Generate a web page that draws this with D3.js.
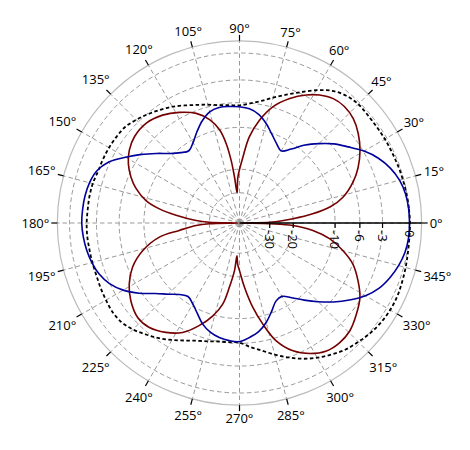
<!DOCTYPE html>
<html><head><meta charset="utf-8">
<script src="https://cdn.jsdelivr.net/npm/d3@7"></script>
<style>
body{margin:0;background:#fff}
text{font-family:"Open Sans",sans-serif;font-size:13px;fill:#000}
</style>
</head><body>
<svg id="chart" width="470" height="450"></svg>
<script>
// ---- data (angles in degrees, values in dB) ----
const angleTicks = [0,15,30,45,60,75,90,105,120,135,150,165,180,195,210,225,240,255,270,285,300,315,330,345];
const radialTicks = [-30,-20,-10,-6,-3,0];
const radialTickLabels = ["-30","-20","-10","-6","-3","0"];
const rMaxDb = 1.2;

const stepAngles = [0,5,10,15,20,25,30,35,40,45,50,55,60,65,70,75,80,85,90,95,100,105,110,115,120,125,130,135,140,145,150,155,160,165,170,175,
  180,185,190,195,200,205,210,215,220,225,230,235,240,245,250,255,260,265,270,275,280,285,290,295,300,305,310,315,320,325,330,335,340,345,350,355];

const blueValues = [0,-0.03,-0.15,-0.45,-1.0,-1.8,-2.9,-4.3,-5.6,-7.2,-8.9,-11.0,-12.4,-11.5,-10.2,-8.7,-7.5,-6.85,-6.6,-6.5,-6.45,-6.77,-7.75,-9.1,-10.5,-11.4,-10.7,-9.5,-7.85,-6.1,-4.45,-2.85,-1.95,-1.57,-1.4,-1.33,
  -1.3,-1.4,-1.58,-1.85,-2.25,-2.95,-4.1,-5.7,-7.6,-9.1,-10.4,-11.1,-10.4,-9.25,-7.95,-7.1,-6.6,-6.33,-6.25,-6.8,-7.5,-8.7,-10.3,-11.8,-12.1,-10.8,-9.1,-7.35,-5.65,-4.1,-2.7,-1.7,-1.05,-0.55,-0.2,-0.03];

const dashValues = [0.05,0,-0.05,-0.1,-0.15,-0.2,-0.22,-0.25,-0.25,-0.2,-0.4,-0.9,-1.8,-2.85,-3.8,-4.7,-5.5,-6.05,-6.4,-6.3,-6.1,-5.7,-5.25,-4.7,-4.1,-3.6,-3.1,-2.65,-2.25,-2.15,-2.1,-2.1,-2.1,-1.95,-1.9,-1.9,
  -1.85,-1.85,-1.9,-1.9,-1.9,-1.8,-1.7,-1.6,-1.7,-2.1,-2.7,-3.3,-4.0,-4.7,-5.3,-5.7,-6.0,-6.1,-6.1,-5.4,-4.7,-3.85,-3.0,-2.2,-1.55,-1.0,-0.5,-0.2,0.1,0.3,0.4,0.4,0.3,0.2,0.1,0.05];

const redAngles = [0,1.5,3,4.5,7,10,14,20,25,31,37,42.5,48,53,58,62.5,68,74,79,83.5,87,92,94.5,96.2,97.6,99.5,102,106,111.5,118.5,125.5,133,140.5,146.5,152,157,161.5,166.5,170,173,176.7,178.5,
  180,181.5,183.3,187,190,196,202.5,209,215.5,223,229,236,242.5,248.5,254,258.3,261,264,265.5,267.5,270,274.5,279,283,287.3,292.7,298.3,304.2,310,315.7,322,328.3,334,340,345,350,354.2,357.3,358.5];
const redValues = [-80,-30,-24,-20,-14.7,-10.7,-8.1,-5.9,-4.55,-3.3,-2.33,-1.68,-1.41,-1.52,-2.07,-2.84,-4.1,-5.93,-8.42,-11.7,-16.4,-22.7,-30,-22.6,-17.2,-13.0,-10.1,-8.0,-6.37,-5.22,-4.33,-3.8,-3.88,-4.38,-5.22,-6.35,-7.7,-9.9,-12.8,-17.0,-23.7,-30,
  -80,-30,-23.7,-17.9,-12.8,-9.08,-6.67,-5.19,-4.19,-3.5,-3.61,-4.41,-5.57,-7.51,-9.83,-12.5,-16.6,-22,-28.5,-24.5,-22.1,-16.8,-11.95,-8.57,-5.56,-3.55,-2.38,-1.64,-1.49,-1.69,-2.37,-3.18,-4.41,-5.94,-8.01,-10.7,-14.5,-20.1,-30];

// ---- drawing ----
const cx = 239.5, cy = 223, R0 = 170;
const svg = d3.select("#chart");
const g = svg.append("g").attr("transform", `translate(${cx},${cy})`);
const r = d3.scaleSqrt().domain([0, 1]).range([0, R0]);
const rad = db => r(Math.pow(10, db / 20));
const toRad = a => a * Math.PI / 180;
const Rmax = rad(rMaxDb);

// grid rings
g.selectAll("circle.ring").data(radialTicks).join("circle")
  .attr("r", d => rad(d)).attr("fill", "none")
  .attr("stroke", "#999").attr("stroke-width", 1).attr("stroke-dasharray", "4.5,3");
// spokes
g.selectAll("line.spoke").data(angleTicks).join("line")
  .attr("x1", 0).attr("y1", 0)
  .attr("x2", d => Rmax * Math.cos(toRad(d))).attr("y2", d => -Rmax * Math.sin(toRad(d)))
  .attr("stroke", "#999").attr("stroke-width", 1).attr("stroke-dasharray", "4.5,3");
// frame
g.append("circle").attr("r", Rmax).attr("fill", "none").attr("stroke", "#bbb").attr("stroke-width", 1.2);

// curves
const line = d3.lineRadial()
  .angle(d => toRad(90 - d[0]))
  .radius(d => rad(d[1]))
  .curve(d3.curveCatmullRomClosed.alpha(0.5));
const zip = (a, v) => a.map((x, i) => [x, v[i]]);

g.append("path").attr("d", line(zip(stepAngles, dashValues)))
  .attr("fill", "none").attr("stroke", "#000").attr("stroke-width", 1.8).attr("stroke-dasharray", "3.5,2.5");
g.append("path").attr("d", line(zip(redAngles, redValues)))
  .attr("fill", "none").attr("stroke", "#750000").attr("stroke-width", 1.6);
g.append("path").attr("d", line(zip(stepAngles, blueValues)))
  .attr("fill", "none").attr("stroke", "#00009a").attr("stroke-width", 1.6);

// radial axis along 0°
g.append("line").attr("x1", 0).attr("y1", 0).attr("x2", Rmax).attr("y2", 0)
  .attr("stroke", "#000").attr("stroke-width", 1.5);
g.selectAll("line.rtick").data(radialTicks).join("line")
  .attr("x1", d => rad(d)).attr("x2", d => rad(d)).attr("y1", 0).attr("y2", 5)
  .attr("stroke", "#000").attr("stroke-width", 1.2);
g.selectAll("text.rlab").data(radialTicks).join("text")
  .attr("transform", d => `translate(${rad(d)},7) rotate(90)`)
  .attr("text-anchor", "start").attr("dominant-baseline", "central")
  .text((d, i) => radialTickLabels[i]);

// angle ticks & labels
g.selectAll("line.atick").data(angleTicks).join("line")
  .attr("x1", d => Rmax * Math.cos(toRad(d))).attr("y1", d => -Rmax * Math.sin(toRad(d)))
  .attr("x2", d => (Rmax + 6) * Math.cos(toRad(d))).attr("y2", d => -(Rmax + 6) * Math.sin(toRad(d)))
  .attr("stroke", "#000").attr("stroke-width", 1.2);
const labs = g.selectAll("text.alab").data(angleTicks).join("text")
  .attr("text-anchor", "middle").attr("dominant-baseline", "central")
  .text(d => d + "°");
labs.each(function(d) {
  const w = this.getComputedTextLength();
  const c = Math.cos(toRad(d)), s = Math.sin(toRad(d));
  const rc = Rmax + 8 + Math.abs(c) * w / 2 + Math.abs(s) * 9.5 / 2;
  d3.select(this).attr("x", rc * c).attr("y", -rc * s);
});
</script>
</body></html>
